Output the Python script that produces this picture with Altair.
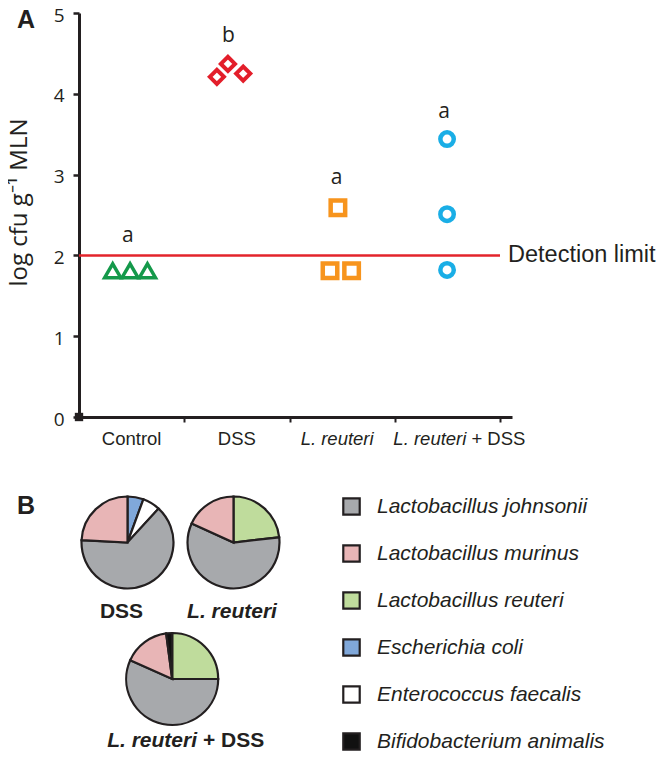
import altair as alt
import pandas as pd

# ---------------- data ----------------
groups = ["Control", "DSS", "L. reuteri", "L. reuteri + DSS"]

# individual animals: group, horizontal position (category units, with jitter), log cfu/g MLN
pt_group = ["Control"] * 3 + ["DSS"] * 3 + ["L. reuteri"] * 3 + ["L. reuteri + DSS"] * 3
pt_x = [0.32, 0.485, 0.65, 1.31, 1.415, 1.56, 2.46, 2.385, 2.59, 3.497, 3.497, 3.497]
pt_y = [1.81, 1.81, 1.81, 4.21, 4.37, 4.25, 2.59, 1.81, 1.81, 3.44, 2.51, 1.82]

sig_letters = ["a", "b", "a", "a"]
sig_x = [0.463, 1.419, 2.448, 3.468]
sig_y = [2.16, 4.64, 2.885, 3.70]

detection_limit = 2.0
detection_label = "Detection limit"
y_ticks = [0, 1, 2, 3, 4, 5]
x_ticks = [1, 2, 3, 4]

species = ["Lactobacillus johnsonii", "Lactobacillus murinus", "Lactobacillus reuteri",
           "Escherichia coli", "Enterococcus faecalis", "Bifidobacterium animalis"]
species_colors = ["#a7a9ac", "#e8b5b6", "#bfdc9c", "#80a8da", "#ffffff", "#111111"]

pie_dss_species = ["Escherichia coli", "Enterococcus faecalis", "Lactobacillus johnsonii", "Lactobacillus murinus"]
pie_dss_pct = [5.6, 6.2, 64.0, 24.2]
pie_lr_species = ["Lactobacillus reuteri", "Lactobacillus johnsonii", "Lactobacillus murinus"]
pie_lr_pct = [23.2, 58.6, 18.2]
pie_lrdss_species = ["Lactobacillus reuteri", "Lactobacillus johnsonii", "Lactobacillus murinus", "Bifidobacterium animalis"]
pie_lrdss_pct = [25.0, 56.7, 16.2, 2.1]

# ---------------- styling ----------------
INK = "#231f20"
W, H = 433, 404
X_MAX = 4.114

points = pd.DataFrame({"group": pt_group, "x": pt_x, "y": pt_y})
letters = pd.DataFrame({"letter": sig_letters, "x": sig_x, "y": sig_y})

xs = alt.X("x:Q", scale=alt.Scale(domain=[0, X_MAX], nice=False, zero=False),
           axis=alt.Axis(values=x_ticks, labels=False, title=None, grid=False,
                         domainColor=INK, domainWidth=3, tickColor=INK,
                         tickWidth=2, tickSize=5))
ys = alt.Y("y:Q", scale=alt.Scale(domain=[0, 5], nice=False),
           axis=alt.Axis(values=y_ticks, format="d", title="log cfu g\u207b\u00b9 MLN",
                         grid=False, domainColor=INK, domainWidth=3, tickColor=INK,
                         tickWidth=2.5, tickSize=6, labelFont="Open Sans",
                         labelFontSize=19, labelColor=INK, labelPadding=9, labelOffset=2,
                         titleFont="Open Sans", titleFontSize=24,
                         titleFontWeight="normal", titleColor=INK,
                         titleX=-53, titleY=189, titleBaseline="alphabetic",
                         titleAngle=270))

base = alt.Chart(points).encode(x=xs, y=ys)

styles = {
    "Control": dict(shape="triangle-up", color="#14994a", size=260, strokeWidth=3.5),
    "DSS": dict(shape="diamond", color="#e31e2a", size=200, strokeWidth=4),
    "L. reuteri": dict(shape="square", color="#f7941d", size=210, strokeWidth=4.5),
    "L. reuteri + DSS": dict(shape="circle", color="#1aaee6", size=180, strokeWidth=4.5),
}
point_layers = []
for g in groups:
    s = styles[g]
    point_layers.append(
        base.transform_filter(alt.datum.group == g).mark_point(
            shape=s["shape"], filled=False, stroke=s["color"], size=s["size"],
            strokeWidth=s["strokeWidth"], opacity=1, strokeJoin="miter")
    )

rule = alt.Chart(pd.DataFrame({"y": [detection_limit], "x": [0.0], "x2": [float(x_ticks[-1])],
                               "label": [detection_label]}))
rule_line = rule.mark_rule(color="#e3242b", strokeWidth=2.5).encode(
    x=alt.X("x:Q", scale=alt.Scale(domain=[0, X_MAX], nice=False)), x2="x2:Q", y="y:Q")
rule_text = rule.mark_text(align="left", baseline="middle", dx=8, font="Liberation Sans",
                           fontSize=23.5, color=INK).encode(x="x2:Q", y="y:Q", text="label:N")

letter_layer = alt.Chart(letters).mark_text(font="Open Sans", fontSize=21, color=INK,
                                            baseline="alphabetic").encode(
    x="x:Q", y="y:Q", text="letter:N")

origin = alt.Chart(pd.DataFrame({"x": [0.0], "y": [0.0]})).mark_square(
    size=70, color=INK, opacity=1).encode(x="x:Q", y="y:Q")

# x category labels (text, mixed italic/regular)
lab = pd.DataFrame({"g": groups, "x": [i + 0.5 for i in range(len(groups))]})
lab["ital"] = [g.split(" + ")[0] if g.startswith("L.") else "" for g in groups]
lab["rest"] = [("+ " + g.split(" + ")[1]) if " + " in g else ("" if g.startswith("L.") else g) for g in groups]
labc = alt.Chart(lab)
lab_kw = dict(font="Liberation Sans", fontSize=18.5, color=INK, baseline="alphabetic", dy=28)
xlab_plain = labc.transform_filter("datum.ital == ''").mark_text(align="center", **lab_kw).encode(
    x="x:Q", y=alt.datum(0), text="rest:N")
xlab_ital3 = labc.transform_filter("datum.ital != '' && datum.rest == ''").mark_text(
    align="center", fontStyle="italic", dx=-5, **lab_kw).encode(x="x:Q", y=alt.datum(0), text="ital:N")
xlab_ital4a = labc.transform_filter("datum.ital != '' && datum.rest != ''").mark_text(
    align="right", fontStyle="italic", dx=19, **lab_kw).encode(x="x:Q", y=alt.datum(0), text="ital:N")
xlab_ital4b = labc.transform_filter("datum.ital != '' && datum.rest != ''").mark_text(
    align="left", dx=24, **lab_kw).encode(x="x:Q", y=alt.datum(0), text="rest:N")

# ---------------- pies (panel B) ----------------
fill_scale = alt.Scale(domain=species, range=species_colors)


def pie(sp, pct, cx, cy, legend=None):
    df = pd.DataFrame({"species": sp, "pct": pct, "ord": list(range(len(sp)))})
    return alt.Chart(df).mark_arc(radius=46, stroke=INK, strokeWidth=2.2).encode(
        theta=alt.Theta("pct:Q", stack=True, scale=alt.Scale(domain=[0, 100])),
        order=alt.Order("ord:Q"),
        fill=alt.Fill("species:N", scale=fill_scale, legend=legend),
        x=alt.value(cx), y=alt.value(cy),
    )


legend = alt.Legend(title=None, orient="none", legendX=262, legendY=483, padding=0,
                    symbolType="square", symbolSize=270, symbolStrokeColor=INK,
                    symbolStrokeWidth=2.2, labelFont="Liberation Sans", labelFontSize=21,
                    labelFontStyle="italic", labelColor=INK, labelOffset=15,
                    rowPadding=20, labelLimit=400, values=species)

pie1 = pie(pie_dss_species, pie_dss_pct, 48.5, 529.5, legend=legend)
pie2 = pie(pie_lr_species, pie_lr_pct, 154.5, 529.5)
pie3 = pie(pie_lrdss_species, pie_lrdss_pct, 93.2, 666)

pie_titles = alt.Chart(pd.DataFrame({"a": [0]}))
t_kw = dict(font="Liberation Sans", fontSize=21, fontWeight="bold", color=INK, baseline="alphabetic")
pt1 = pie_titles.mark_text(align="center", text="DSS", **t_kw).encode(x=alt.value(42.5), y=alt.value(605))
pt2 = pie_titles.mark_text(align="center", text="L. reuteri", fontStyle="italic", **t_kw).encode(
    x=alt.value(153), y=alt.value(605))
pt3a = pie_titles.mark_text(align="right", text="L. reuteri", fontStyle="italic", **t_kw).encode(
    x=alt.value(118), y=alt.value(734))
pt3b = pie_titles.mark_text(align="left", text="+ DSS", **t_kw).encode(
    x=alt.value(124), y=alt.value(734))

panel_kw = dict(font="Liberation Sans", fontSize=25, fontWeight="bold", color=INK,
                baseline="alphabetic", align="left")
pA = pie_titles.mark_text(text="A", **panel_kw).encode(x=alt.value(-62), y=alt.value(15))
pB = pie_titles.mark_text(text="B", **panel_kw).encode(x=alt.value(-62), y=alt.value(501))

chart = alt.layer(
    rule_line, rule_text, *point_layers, letter_layer, origin,
    xlab_plain, xlab_ital3, xlab_ital4a, xlab_ital4b,
    pie1, pie2, pie3, pt1, pt2, pt3a, pt3b, pA, pB,
).properties(
    width=W, height=H,
    padding={"left": 71, "top": 5, "right": 144, "bottom": 340},
    autosize=alt.AutoSizeParams(type="none"),
).configure_view(stroke=None)

chart.save("out.html", embed_options={"renderer": "svg", "actions": False})
